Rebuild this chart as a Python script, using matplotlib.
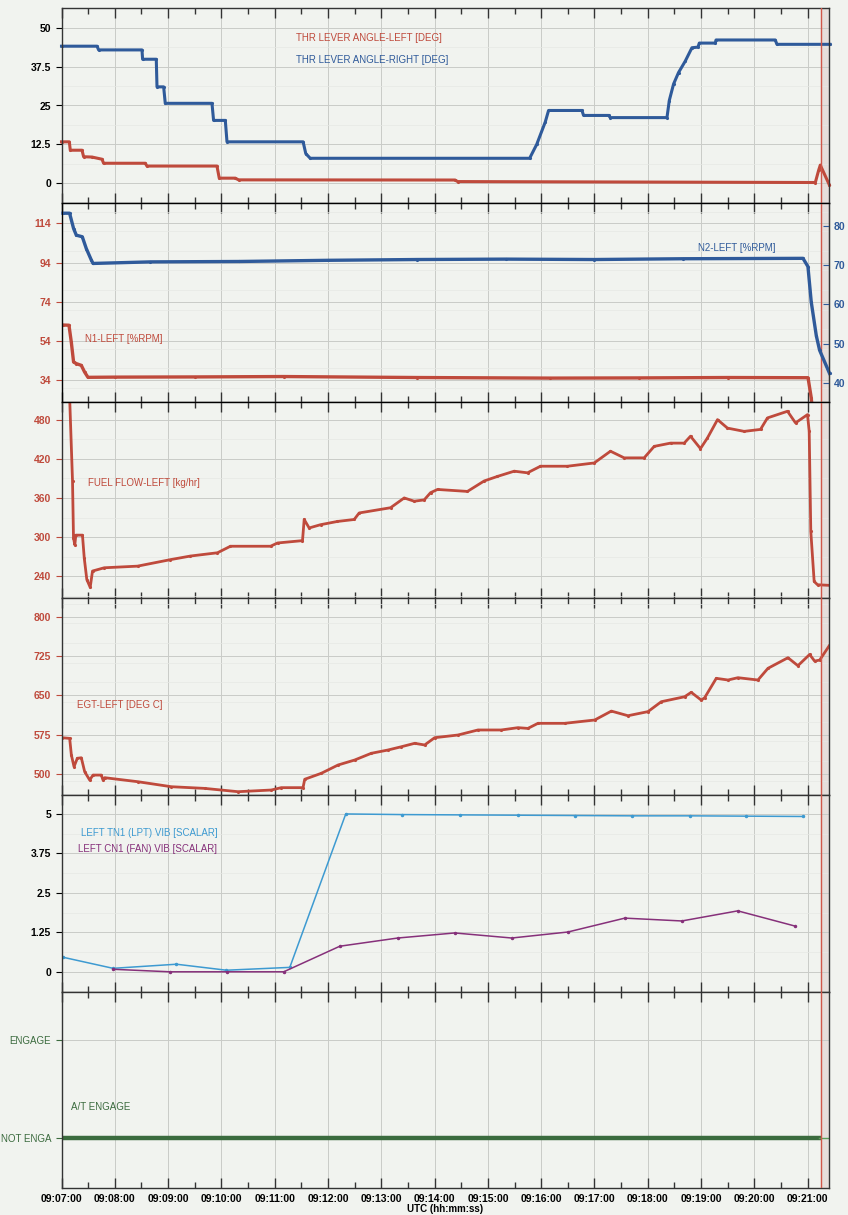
import numpy as np
import matplotlib.pyplot as plt
from matplotlib.ticker import MultipleLocator, FuncFormatter

plt.rcParams['font.family'] = ['Liberation Sans', 'DejaVu Sans']

# time axis: seconds after 09:07:00
T_END = 864
T_CUT = 854.7

# throttle lever angles [deg]
tla_r_t = [0, 40, 41.8, 90.6, 91.3, 106.7, 107.5, 115, 116.8, 169.4, 171.2, 184.4, 186.3, 272, 275, 280, 527,
           535, 544.6, 548.3, 585.9, 587.7, 615.9, 617.8, 681.6, 684.2, 689, 694.6, 702.2, 709.7, 716.5, 718, 736,
           736.8, 803.5, 805.4, 865]
tla_r = [44.1, 44.1, 42.9, 42.9, 39.9, 39.9, 31.0, 31.0, 25.7, 25.7, 20.2, 20.2, 13.3, 13.3, 9.5, 8.0, 8.0,
         12.5, 19.7, 23.4, 23.4, 21.8, 21.8, 21.1, 21.1, 26.6, 31.9, 35.6, 39.3, 43.6, 43.8, 45.1, 45.1,
         46.1, 46.1, 44.7, 44.7]
tla_l_t = [0, 8.8, 9.9, 23.1, 24.9, 34.3, 45.6, 47.4, 94.3, 96.2, 175, 177.6, 195.6, 199.4, 443, 446, 848.6,
           852.4, 854.2, 864.3]
tla_l = [13.3, 13.3, 10.6, 10.6, 8.5, 8.4, 7.7, 6.4, 6.4, 5.5, 5.5, 1.6, 1.6, 1.05, 1.0, 0.5, 0.2,
         4.2, 5.8, -0.5]

# N1 / N2 [%rpm]
n1_t = [1.7, 8.4, 11, 13.6, 16.7, 22.3, 26, 29.8, 60, 150, 250, 400, 550, 650, 750, 840.4, 844, 846]
n1 = [62.1, 62.0, 53.5, 43.2, 42.4, 41.5, 38.1, 35.4, 35.5, 35.6, 35.8, 35.3, 35.0, 35.1, 35.3, 35.2, 25, 15]
n2_t = [1.7, 9.1, 13.6, 16.7, 23.4, 27.9, 33.5, 35.5, 100, 200, 300, 400, 500, 600, 700, 834.7, 840.3, 844,
        849.7, 853.4, 864.6]
n2 = [83.2, 83.2, 79.3, 77.6, 77.2, 74.2, 71.3, 70.4, 70.8, 70.9, 71.2, 71.4, 71.5, 71.4, 71.6, 71.7, 69.6,
      60.6, 52.0, 48.3, 42.4]

# fuel flow [kg/hr]
ff_t = [8, 12.4, 13.5, 15.0, 16.1, 23.6, 25.6, 28.5, 32.3, 34.9, 48.1, 85.6, 122.7, 145.2, 175.6, 190.2,
        235.3, 243.2, 271.3, 273.2, 278.8, 291.6, 310.7, 329.5, 335.1, 370.4, 385.8, 397.0, 408.3, 415.4,
        423.3, 457.0, 475.8, 490.8, 509.6, 524.6, 539.2, 569.6, 599.7, 618.0, 633.4, 655.9, 667.2, 685.6,
        701.0, 708.1, 719.3, 727.2, 738.5, 749.7, 768.5, 786.9, 794.7, 817.3, 826.3, 839.8, 841.7, 843.5,
        847.3, 851.1, 865.7]
ff = [560, 386, 299, 288, 303, 303, 268, 235, 223, 248, 253, 255.5, 265.5, 271, 276, 286,
      286, 291, 294.6, 327, 314, 319, 324, 327, 337, 345, 360, 355, 357, 368,
      373, 370, 386, 393, 401, 398.5, 408.6, 408.6, 413.6, 431.6, 421.4, 421.4, 439, 444,
      444, 454.6, 435.6, 452, 480, 467, 462, 465, 482.6, 492.8, 475, 487.7, 462, 309,
      232, 227, 226]

# exhaust gas temperature [deg C]
egt_t = [0, 9.2, 11.1, 14.1, 17.8, 22.3, 26.1, 31.7, 35.5, 44.8, 46.7, 48.6, 86.1, 123.6, 161.2, 198.7,
         236.2, 247.4, 271.9, 273.8, 292.5, 311.3, 330, 348.7, 367.5, 382.5, 397.6, 408.8, 420.1, 446.3,
         468.8, 495, 513.9, 525, 536.4, 566.4, 600.2, 619, 637.7, 660.2, 675.2, 701.5, 708.9, 720.2, 724,
         737.1, 750.3, 761.5, 784, 795.3, 817.8, 829, 842.2, 847.8, 853.5, 864.8]
egt = [569.3, 568, 536.3, 514, 530, 531, 504.4, 488.6, 498, 498, 488.6, 493, 485.3, 475.8, 472.6, 466.3,
       469.5, 474, 474, 490, 501.4, 517.2, 526.7, 539.5, 545.8, 552, 558.6, 555.4, 569.3, 574.4,
       584, 584, 588.4, 587, 596.7, 596.7, 603, 620, 611.2, 619, 637.9, 647.4, 655.8, 641, 645.5,
       682.5, 679.3, 683.7, 679.3, 701.6, 721.8, 706.6, 728, 715.4, 717.3, 746]

# vibration [scalar]
tn1_t = [1.8, 58, 129.4, 185.7, 257, 320, 383, 448.4, 513.6, 577.8, 642, 707.3, 770.3, 834.5]
tn1 = [0.46, 0.11, 0.24, 0.05, 0.14, 5.0, 4.98, 4.97, 4.96, 4.95, 4.94, 4.94, 4.93, 4.92]
cn1_t = [57.7, 121.9, 186, 250.2, 313.3, 378.6, 442.7, 506.9, 570, 634.1, 698.3, 761.3, 825.5]
cn1 = [0.08, 0.0, 0.0, 0.0, 0.81, 1.07, 1.23, 1.07, 1.26, 1.70, 1.61, 1.93, 1.45]

# autothrottle engage state (0 = not engaged)
at_t = [0, 853]
at_state = [0, 0]

RED = '#bf4a3c'
BLUE = '#2f5a9a'
LBLUE = '#3d9ad1'
PURPLE = '#86307a'
GREEN = '#3b6b3e'
BG = '#f1f3ef'

fig = plt.figure(figsize=(8.48, 12.15), dpi=100, facecolor=BG)
L, W = 61.5 / 848, (829 - 61.5) / 848
rows = [(8, 203), (203, 402), (402, 598), (598, 795), (795, 992), (992, 1188)]
axes = []
for top, bot in rows:
    ax = fig.add_axes([L, 1 - bot / 1215, W, (bot - top) / 1215], facecolor=BG)
    axes.append(ax)


def hms(x, pos):
    s = int(round(x)) + 9 * 3600 + 7 * 60
    return '%02d:%02d:%02d' % (s // 3600, s // 60 % 60, s % 60)


for ax in axes:
    ax.set_xlim(0, T_END)
    ax.xaxis.set_major_locator(MultipleLocator(60))
    ax.xaxis.set_minor_locator(MultipleLocator(30))
    ax.tick_params(axis='x', which='both', direction='in', top=True, bottom=True, labelbottom=False)
    ax.tick_params(axis='x', which='major', length=7, width=1, color='#333333')
    ax.tick_params(axis='x', which='minor', length=4, width=1, color='#333333')
    ax.tick_params(axis='y', which='major', direction='out', length=4, labelsize=7.5)
    ax.tick_params(axis='y', which='minor', length=0)
    ax.grid(True, which='major', color='#c9cbc7', lw=0.7)
    ax.grid(True, which='minor', axis='y', color='#e6e8e4', lw=0.5)
    for sp in ax.spines.values():
        sp.set_color('#333333')
        sp.set_linewidth(1)
    ax.axvspan(T_CUT, T_END, color='#e6dedb', zorder=0)
    ax.axvline(T_CUT, color='#d0574a', lw=1, zorder=4)

# throttle levers
ax = axes[0]
ax.plot(tla_l_t, tla_l, color=RED, lw=2.2, marker='.', ms=2.5, clip_on=False)
ax.plot(tla_r_t, tla_r, color=BLUE, lw=2.2, marker='.', ms=2.5, clip_on=False)
ax.set_ylim(-6.4, 56.4)
ax.yaxis.set_major_locator(MultipleLocator(12.5))
ax.yaxis.set_minor_locator(MultipleLocator(6.25))
ax.yaxis.set_major_formatter(FuncFormatter(lambda v, p: ('%g' % v)))
ax.text(0.305, 0.83, 'THR LEVER ANGLE-LEFT [DEG]', color=RED, fontsize=7, transform=ax.transAxes)
ax.text(0.305, 0.72, 'THR LEVER ANGLE-RIGHT [DEG]', color=BLUE, fontsize=7, transform=ax.transAxes)

# N1 left axis, N2 right axis
ax = axes[1]
ax.plot(n1_t, n1, color=RED, lw=2.4, marker='.', ms=2.5)
ax.set_ylim(22.8, 124.4)
ax.set_yticks([34, 54, 74, 94, 114])
ax.yaxis.set_minor_locator(MultipleLocator(10))
ax.yaxis.set_minor_formatter(FuncFormatter(lambda v, p: ''))
ax.tick_params(axis='y', colors=RED)
ax.text(0.03, 0.3, 'N1-LEFT [%RPM]', color=RED, fontsize=7, transform=ax.transAxes)
ax2 = ax.twinx()
ax2.set_xlim(0, T_END)
ax2.plot(n2_t, n2, color=BLUE, lw=2.4, marker='.', ms=2.5, clip_on=False)
ax2.set_ylim(35.1, 85.8)
ax2.set_yticks([40, 50, 60, 70, 80])
ax2.tick_params(axis='y', direction='in', length=4, colors=BLUE, labelsize=7.5)
ax2.spines['right'].set_color('#333333')
ax2.text(0.88, 0.76, 'N2-LEFT [%RPM]', color=BLUE, fontsize=7, transform=ax2.transAxes, ha='center')

# fuel flow
ax = axes[2]
ax.plot(ff_t, ff, color=RED, lw=2.0, marker='.', ms=2.5)
ax.set_ylim(206.7, 507)
ax.set_yticks([240, 300, 360, 420, 480])
ax.yaxis.set_minor_locator(MultipleLocator(30))
ax.yaxis.set_minor_formatter(FuncFormatter(lambda v, p: ''))
ax.tick_params(axis='y', colors=RED)
ax.text(0.035, 0.57, 'FUEL FLOW-LEFT [kg/hr]', color=RED, fontsize=7, transform=ax.transAxes)

# EGT
ax = axes[3]
ax.plot(egt_t, egt, color=RED, lw=2.0, marker='.', ms=2.5)
ax.set_ylim(460, 835.7)
ax.set_yticks([500, 575, 650, 725, 800])
ax.yaxis.set_minor_locator(MultipleLocator(37.5))
ax.yaxis.set_minor_formatter(FuncFormatter(lambda v, p: ''))
ax.tick_params(axis='y', colors=RED)
ax.text(0.02, 0.44, 'EGT-LEFT [DEG C]', color=RED, fontsize=7, transform=ax.transAxes)

# vibration
ax = axes[4]
ax.plot(tn1_t, tn1, color=LBLUE, lw=1.1, marker='.', ms=3)
ax.plot(cn1_t, cn1, color=PURPLE, lw=1.1, marker='.', ms=3)
ax.set_ylim(-0.64, 5.6)
ax.yaxis.set_major_locator(MultipleLocator(1.25))
ax.yaxis.set_minor_locator(MultipleLocator(0.625))
ax.yaxis.set_major_formatter(FuncFormatter(lambda v, p: ('%g' % v)))
ax.yaxis.set_minor_formatter(FuncFormatter(lambda v, p: ''))
ax.text(0.026, 0.79, 'LEFT TN1 (LPT) VIB [SCALAR]', color=LBLUE, fontsize=7, transform=ax.transAxes)
ax.text(0.022, 0.71, 'LEFT CN1 (FAN) VIB [SCALAR]', color=PURPLE, fontsize=7, transform=ax.transAxes)

# autothrottle
ax = axes[5]
ax.plot(at_t, at_state, color=GREEN, lw=3.2)
ax.plot([at_t[-1], T_END], [0, 0], color='#5aa05a', lw=1)
ax.set_ylim(-0.51, 1.49)
ax.set_yticks([0, 1])
ax.set_yticklabels(['NOT ENGA', 'ENGAGE'])
ax.tick_params(axis='y', colors=GREEN, labelsize=7)
ax.text(0.012, 0.4, 'A/T ENGAGE', color=GREEN, fontsize=7, transform=ax.transAxes)
ax.xaxis.set_major_formatter(FuncFormatter(hms))
ax.tick_params(axis='x', labelbottom=True, labelsize=7.5, pad=4)
for lab in ax.get_xticklabels():
    lab.set_fontweight('bold')
ax.set_xlabel('UTC (hh:mm:ss)', fontsize=7, fontweight='bold', labelpad=0)

for a in axes[:5] + [ax2]:
    for lab in a.get_yticklabels():
        lab.set_fontweight('bold')

fig.savefig('out.png', dpi=100, facecolor=BG)
